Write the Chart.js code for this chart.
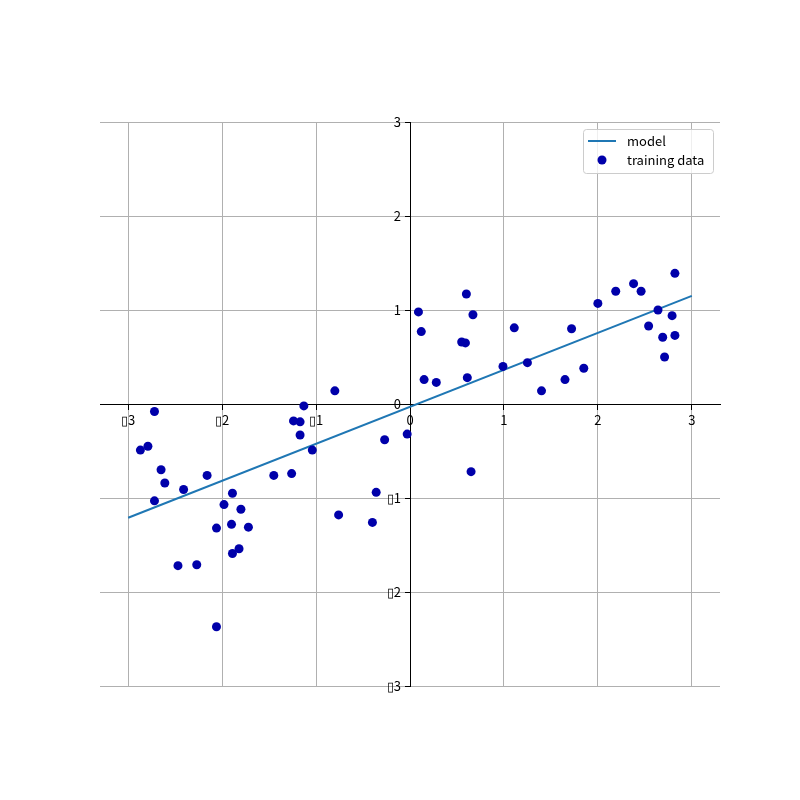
<!DOCTYPE html>
<html>
<head>
<meta charset="utf-8">
<script src="https://cdn.jsdelivr.net/npm/chart.js@4"></script>
<style>
  html, body { margin: 0; padding: 0; background: #fff; }
  #wrap { width: 800px; height: 800px; }
</style>
</head>
<body>
<div id="wrap"><canvas id="chart" width="800" height="800"></canvas></div>
<script>
/* ── data ── */
const trainX = [-2.72, -2.87, -2.79, -2.65, -2.61, -2.72, -2.41, -2.16, -2.47, -2.27,
                -2.06, -1.98, -1.89, -1.80, -1.90, -1.72, -1.89, -1.82, -2.06, -1.45,
                -1.26, -1.24, -1.17, -1.17, -1.13, -1.04, -0.80, -0.76, -0.36, -0.40,
                -0.27, -0.03, 0.09, 0.12, 0.15, 0.28, 0.60, 0.67, 0.55, 0.59,
                0.61, 0.99, 1.11, 1.25, 1.40, 1.65, 1.72, 1.85, 2.00, 2.19,
                2.38, 2.46, 2.64, 2.54, 2.69, 2.71, 2.79, 2.82, 2.82, 0.65];
const trainY = [-0.08, -0.49, -0.45, -0.70, -0.84, -1.03, -0.91, -0.76, -1.72, -1.71,
                -1.32, -1.07, -0.95, -1.12, -1.28, -1.31, -1.59, -1.54, -2.37, -0.76,
                -0.74, -0.18, -0.19, -0.33, -0.02, -0.49, 0.14, -1.18, -0.94, -1.26,
                -0.38, -0.32, 0.98, 0.77, 0.26, 0.23, 1.17, 0.95, 0.66, 0.65,
                0.28, 0.40, 0.81, 0.44, 0.14, 0.26, 0.80, 0.38, 1.07, 1.20,
                1.28, 1.20, 1.00, 0.83, 0.71, 0.50, 0.94, 0.73, 1.39, -0.72];
const lineX = [-3, 3];
const lineY = [-1.21, 1.15];

const xTicks = [-3, -2, -1, 0, 1, 2, 3];
const xTickLabels = ['\u25AF3', '\u25AF2', '\u25AF1', '0', '1', '2', '3'];
const yTicks = [-3, -2, -1, 0, 1, 2, 3];
const yTickLabels = ['\u25AF3', '\u25AF2', '\u25AF1', '0', '1', '2', '3'];

const seriesNames = ['model', 'training data'];
const LINE_COLOR = '#1f77b4';
const DOT_COLOR = '#0000aa';
const FONT = '"Noto Sans CJK KR", "Noto Sans", sans-serif';

Chart.defaults.color = '#000';
Chart.defaults.font.family = FONT;
Chart.defaults.font.size = 13;

/* legend drawn inside the plot, top right, like matplotlib */
const boxLegend = {
  id: 'boxLegend',
  afterDraw(chart) {
    const { ctx, chartArea } = chart;
    const w = 130, h = 44;
    const x = chartArea.right - 7 - w, y = chartArea.top + 7;
    ctx.save();
    ctx.fillStyle = 'rgba(255,255,255,0.8)';
    ctx.strokeStyle = '#cccccc';
    ctx.lineWidth = 1;
    ctx.beginPath();
    ctx.roundRect(x + 0.5, y + 0.5, w, h, 3);
    ctx.fill();
    ctx.stroke();

    ctx.strokeStyle = LINE_COLOR;
    ctx.lineWidth = 2;
    ctx.beginPath();
    ctx.moveTo(x + 5, y + 12);
    ctx.lineTo(x + 33, y + 12);
    ctx.stroke();

    ctx.fillStyle = DOT_COLOR;
    ctx.beginPath();
    ctx.arc(x + 19, y + 31, 4.5, 0, Math.PI * 2);
    ctx.fill();

    ctx.fillStyle = '#000';
    ctx.font = '13px ' + FONT;
    ctx.textBaseline = 'middle';
    ctx.fillText(seriesNames[0], x + 44, y + 12);
    ctx.fillText(seriesNames[1], x + 44, y + 31);
    ctx.restore();
  }
};

/* y labels of a centred axis sit flush on the spine in Chart.js; push them left past the tick */
function shiftYLabels(scale) {
  if (scale._shifted) return;
  scale._shifted = true;
  const base = scale._computeLabelItems.bind(scale);
  scale._computeLabelItems = area => base(area).map(it => {
    it.options.translation[0] -= 9;
    return it;
  });
}

new Chart(document.getElementById('chart'), {
  type: 'scatter',
  data: {
    datasets: [
      {
        type: 'line',
        label: seriesNames[0],
        data: lineX.map((x, i) => ({ x, y: lineY[i] })),
        borderColor: LINE_COLOR,
        borderWidth: 2,
        pointRadius: 0,
        fill: false,
        order: 1,
      },
      {
        label: seriesNames[1],
        data: trainX.map((x, i) => ({ x, y: trainY[i] })),
        backgroundColor: DOT_COLOR,
        borderColor: DOT_COLOR,
        borderWidth: 0,
        pointRadius: 4.5,
        order: 0,
      },
    ],
  },
  options: {
    responsive: false,
    animation: false,
    layout: { padding: { left: 100, right: 80, top: 122, bottom: 114 } },
    plugins: { legend: { display: false }, tooltip: { enabled: false } },
    scales: {
      x: {
        type: 'linear',
        position: { y: 0 },
        min: -3.3,
        max: 3.3,
        afterBuildTicks: s => { s.ticks = xTicks.map(v => ({ value: v })); },
        ticks: {
          padding: 3,
          maxRotation: 0,
          callback: v => xTickLabels[xTicks.indexOf(v)],
        },
        grid: { color: '#b0b0b0', lineWidth: 1, tickColor: '#000', tickLength: 5 },
        border: { color: '#000', width: 1 },
      },
      y: {
        type: 'linear',
        position: { x: 0 },
        min: -3,
        max: 3,
        afterBuildTicks: s => { s.ticks = yTicks.map(v => ({ value: v })); },
        afterUpdate: shiftYLabels,
        ticks: {
          padding: 3,
          callback: v => yTickLabels[yTicks.indexOf(v)],
        },
        grid: { color: '#b0b0b0', lineWidth: 1, tickColor: '#000', tickLength: 5 },
        border: { color: '#000', width: 1 },
      },
    },
  },
  plugins: [boxLegend],
});
</script>
</body>
</html>
